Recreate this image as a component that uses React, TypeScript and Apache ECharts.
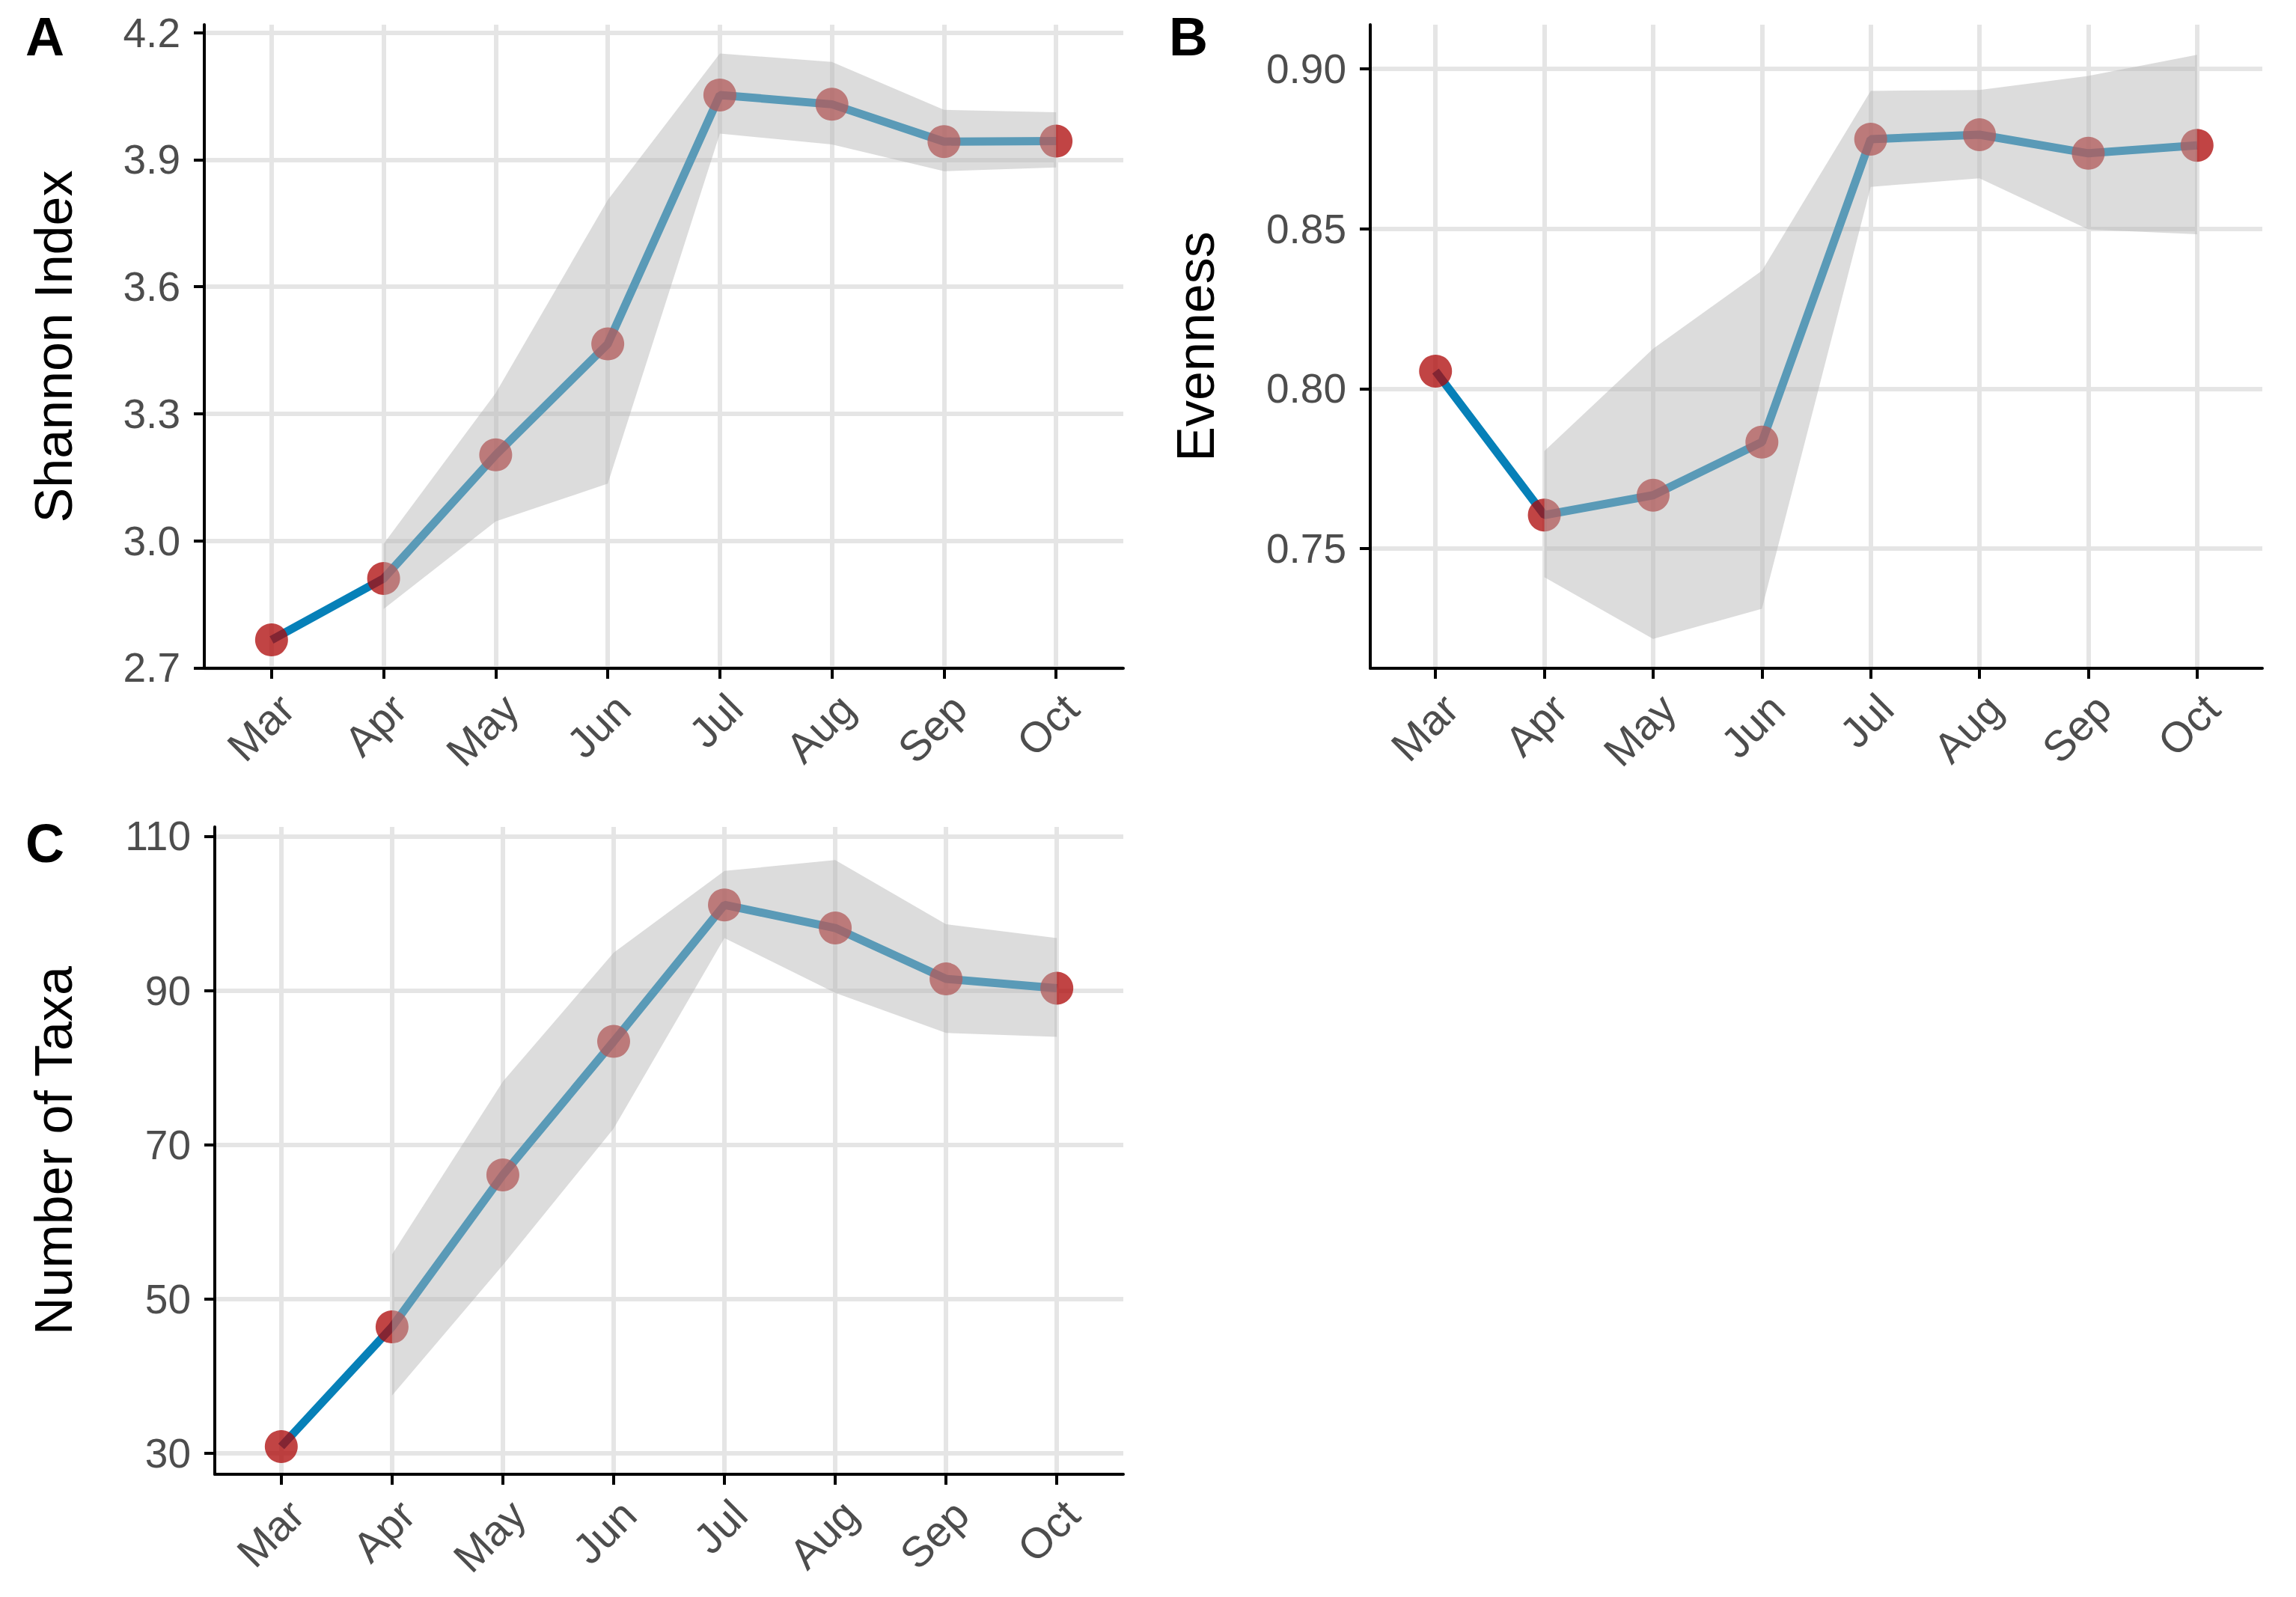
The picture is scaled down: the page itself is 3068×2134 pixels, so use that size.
import React, { useEffect, useRef } from 'react';
import * as echarts from 'echarts';

// ---------- data ----------
const months = ['Mar', 'Apr', 'May', 'Jun', 'Jul', 'Aug', 'Sep', 'Oct'];

// Panel A: Shannon index (means) and ribbon Apr..Oct
const shannon = [2.766, 2.911, 3.203, 3.465, 4.053, 4.031, 3.943, 3.944];
const shannonUpper = [2.993, 3.349, 3.805, 4.151, 4.131, 4.018, 4.012];
const shannonLower = [2.839, 3.046, 3.135, 3.962, 3.936, 3.873, 3.882];
const shannonTicks = [2.7, 3.0, 3.3, 3.6, 3.9, 4.2];

// Panel B: Evenness
const evenness = [0.8055, 0.7605, 0.7667, 0.7833, 0.878, 0.8794, 0.8736, 0.8761];
const evennessUpper = [0.7805, 0.8125, 0.8369, 0.8931, 0.8934, 0.8978, 0.9044];
const evennessLower = [0.7411, 0.7218, 0.7312, 0.8631, 0.8658, 0.8498, 0.8483];
const evennessTicks = [0.75, 0.8, 0.85, 0.9];

// Panel C: Number of taxa
const taxa = [30.9, 46.4, 66.1, 83.4, 101.1, 98.1, 91.5, 90.3];
const taxaUpper = [55.8, 78.2, 94.9, 105.5, 106.9, 98.6, 96.8];
const taxaLower = [37.5, 54.4, 72.1, 96.8, 89.7, 84.5, 84.0];
const taxaTicks = [30, 50, 70, 90, 110];

const ribbonStartIndex = 1; // ribbon begins at Apr

// ---------- styles ----------
const FONT = '"Liberation Sans", Arial, Helvetica, sans-serif';
const LINE_COLOR = '#0680B8';
const POINT_COLOR = 'rgba(172,6,6,0.94)';
const RIBBON_COLOR = 'rgba(182,182,182,0.48)';
const GRID_COLOR = '#E5E5E5';
const TICK_COLOR = '#4D4D4D';

interface Panel {
  letter: string;
  title: string;
  values: number[];
  upper: number[];
  lower: number[];
  ticks: number[];
  decimals: number;
  min: number;
  max: number;
  grid: { left: number; top: number; width: number; height: number };
  letterPos: [number, number];
  nameGap: number;
}

const panels: Panel[] = [
  {
    letter: 'A', title: 'Shannon Index', values: shannon, upper: shannonUpper, lower: shannonLower,
    ticks: shannonTicks, decimals: 1, min: 2.699, max: 4.219,
    grid: { left: 273, top: 33, width: 1228, height: 860 }, letterPos: [60, 49], nameGap: 166,
  },
  {
    letter: 'B', title: 'Evenness', values: evenness, upper: evennessUpper, lower: evennessLower,
    ticks: evennessTicks, decimals: 2, min: 0.7126, max: 0.9138,
    grid: { left: 1831, top: 33, width: 1192, height: 860 }, letterPos: [1588, 49], nameGap: 198,
  },
  {
    letter: 'C', title: 'Number of Taxa', values: taxa, upper: taxaUpper, lower: taxaLower,
    ticks: taxaTicks, decimals: 0, min: 27.3, max: 111.2,
    grid: { left: 287, top: 1105, width: 1214, height: 865 }, letterPos: [60, 1127], nameGap: 180,
  },
];

function buildOption() {
  const xs = months.map((_, i) => i + 1);
  const grids: any[] = [];
  const xAxes: any[] = [];
  const yAxes: any[] = [];
  const series: any[] = [];
  const graphics: any[] = [];

  panels.forEach((p, i) => {
    grids.push({ ...p.grid, containLabel: false, outerBoundsMode: 'none' });
    xAxes.push({
      type: 'value', gridIndex: i, min: 0.4, max: 8.6,
      axisLine: { show: true, onZero: false, lineStyle: { color: '#000', width: 4 } },
      axisTick: { show: true, customValues: xs, length: 14, lineStyle: { color: '#000', width: 4 } },
      axisLabel: {
        customValues: xs,
        formatter: (v: number) => months[Math.round(v) - 1] ?? '',
        rotate: 45, align: 'right', verticalAlign: 'top', margin: 24,
        fontSize: 57, color: TICK_COLOR, fontFamily: FONT,
      },
      splitLine: { show: true, lineStyle: { color: GRID_COLOR, width: 6 } },
    });
    yAxes.push({
      type: 'value', gridIndex: i, min: p.min, max: p.max,
      axisLine: { show: true, onZero: false, lineStyle: { color: '#000', width: 4 } },
      axisTick: { show: true, customValues: p.ticks, length: 14, lineStyle: { color: '#000', width: 4 } },
      axisLabel: {
        customValues: p.ticks,
        formatter: (v: number) => v.toFixed(p.decimals),
        margin: 32, fontSize: 55, color: TICK_COLOR, fontFamily: FONT,
      },
      splitLine: { show: true, lineStyle: { color: GRID_COLOR, width: 6 } },
      name: p.title, nameLocation: 'middle', nameGap: p.nameGap, nameMoveOverlap: false,
      nameTextStyle: { fontSize: 70, color: '#000', fontFamily: FONT },
    });

    const pts = p.values.map((v, k) => [k + 1, v]);
    series.push({
      type: 'line', xAxisIndex: i, yAxisIndex: i, data: pts, symbol: 'none',
      lineStyle: { color: LINE_COLOR, width: 11 }, z: 2, silent: true,
    });
    series.push({
      type: 'scatter', xAxisIndex: i, yAxisIndex: i, data: pts, symbolSize: 44,
      itemStyle: { color: POINT_COLOR }, z: 3, silent: true,
    });
    const upper = p.upper;
    const lower = p.lower;
    series.push({
      type: 'custom', xAxisIndex: i, yAxisIndex: i, z: 4, silent: true, clip: false,
      data: [[ribbonStartIndex + 1, upper[0]]],
      renderItem: (_params: any, api: any) => {
        const poly: number[][] = [];
        for (let k = 0; k < upper.length; k++) {
          poly.push(api.coord([ribbonStartIndex + 1 + k, upper[k]]));
        }
        for (let k = lower.length - 1; k >= 0; k--) {
          poly.push(api.coord([ribbonStartIndex + 1 + k, lower[k]]));
        }
        return { type: 'polygon', shape: { points: poly }, style: { fill: RIBBON_COLOR } };
      },
    });

    graphics.push({
      type: 'text', x: p.letterPos[0], y: p.letterPos[1],
      style: {
        text: p.letter, fontSize: 72, fontWeight: 'bold', fontFamily: FONT, fill: '#000',
        align: 'center', verticalAlign: 'middle',
      },
    });
  });

  return {
    animation: false,
    backgroundColor: '#FFFFFF',
    grid: grids,
    xAxis: xAxes,
    yAxis: yAxes,
    series,
    graphic: graphics,
  };
}

export default function App() {
  const ref = useRef<HTMLDivElement>(null);
  useEffect(() => {
    if (!ref.current) return;
    const chart = echarts.init(ref.current, undefined, { renderer: 'svg' });
    chart.setOption(buildOption() as any);
    return () => chart.dispose();
  }, []);
  return (
    <div
      ref={ref}
      style={{ position: 'absolute', left: 0, top: 0, width: 3068, height: 2134, background: '#fff' }}
    />
  );
}
